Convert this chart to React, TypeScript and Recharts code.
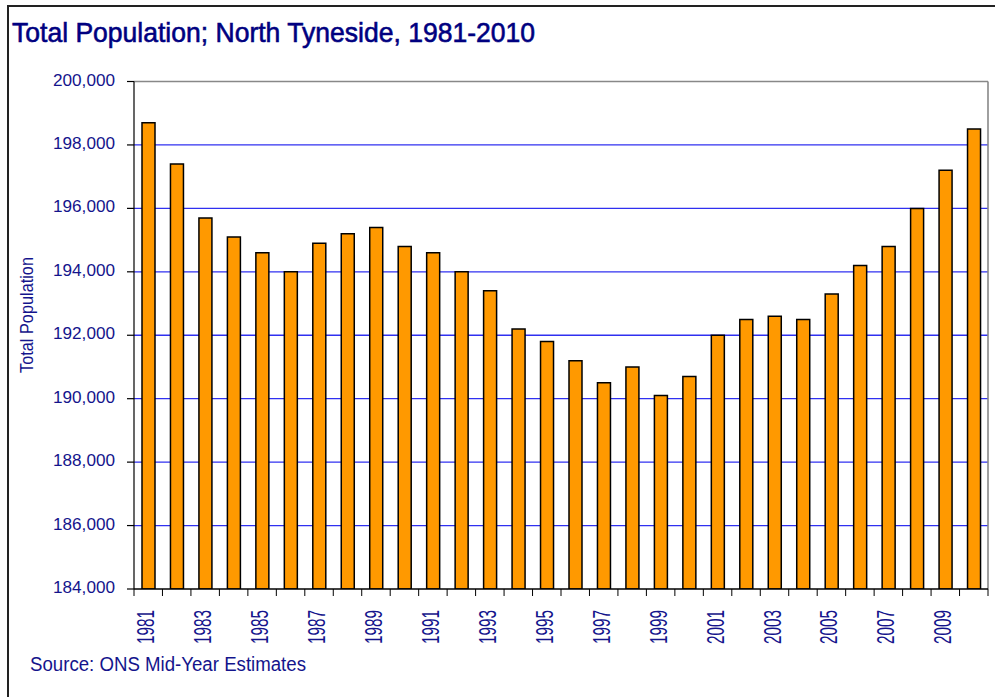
import { Bar, BarChart, CartesianGrid, XAxis, YAxis } from "recharts";

const years = [
  1981, 1982, 1983, 1984, 1985, 1986, 1987, 1988, 1989, 1990,
  1991, 1992, 1993, 1994, 1995, 1996, 1997, 1998, 1999, 2000,
  2001, 2002, 2003, 2004, 2005, 2006, 2007, 2008, 2009, 2010,
];
const population = [
  198700, 197400, 195700, 195100, 194600, 194000, 194900, 195200, 195400, 194800,
  194600, 194000, 193400, 192200, 191800, 191200, 190500, 191000, 190100, 190700,
  192000, 192500, 192600, 192500, 193300, 194200, 194800, 196000, 197200, 198500,
];
const yTicks = [184000, 186000, 188000, 190000, 192000, 194000, 196000, 198000, 200000];

const rows = years.map((y, i) => ({ year: String(y), pop: population[i] }));
// blue grid only inside the plot; top edge is the grey frame, bottom is the axis
const gridValues = yTicks.slice(1, -1);
const topValue = [yTicks[yTicks.length - 1]];

const W = 995;
const H = 697;
const LEFT = 134;
const RIGHT = 7;
const TOP = 81.5;
const BOTTOM = 108;
const BAND = (W - LEFT - RIGHT) / years.length;

const NAVY = "#14148c";
const FONT = "'Liberation Sans', Arial, sans-serif";

const fmt = (v: number) => v.toLocaleString("en-GB");

function YearTick(props: any) {
  const { x, y, index, payload } = props;
  const last = index === years.length - 1;
  return (
    <g>
      <line x1={x - BAND / 2} x2={x - BAND / 2} y1={y} y2={y + 7} stroke="#000" />
      {last && <line x1={x + BAND / 2} x2={x + BAND / 2} y1={y} y2={y + 7} stroke="#000" />}
      {index % 2 === 0 && (
        <text
          transform={`translate(${x + 6},${y + 21}) rotate(-90)`}
          textAnchor="end"
          fontSize={24}
          fontFamily={FONT}
          fill={NAVY}
          textLength={34}
          lengthAdjust="spacingAndGlyphs"
        >
          {payload.value}
        </text>
      )}
    </g>
  );
}

function PopTick(props: any) {
  const { x, y, payload } = props;
  return (
    <text
      x={x}
      y={y + 4}
      textAnchor="end"
      fontSize={17}
      fontFamily={FONT}
      fill={NAVY}
      textLength={62}
      lengthAdjust="spacingAndGlyphs"
    >
      {fmt(payload.value)}
    </text>
  );
}

export default function App() {
  return (
    <div style={{ position: "fixed", left: 0, top: 0, width: W, height: H, overflow: "hidden", background: "#fff" }}>
      <div
        style={{
          position: "absolute",
          left: 7,
          top: 5,
          width: W,
          height: H,
          borderLeft: "2px solid #222",
          borderTop: "2px solid #222",
        }}
      />
      <div style={{ position: "absolute", left: 0, top: 0 }}>
        <BarChart
          width={W}
          height={H}
          data={rows}
          margin={{ top: TOP, right: RIGHT, bottom: 0, left: 0 }}
          barSize={13}
        >
          <CartesianGrid vertical={false} stroke="#3030f0" strokeWidth={1.3} horizontalValues={gridValues} />
          {/* grey frame on top and right of the plot */}
          <CartesianGrid
            stroke="#888"
            strokeWidth={1.6}
            horizontalValues={topValue}
            verticalCoordinatesGenerator={({ offset }: any) => [offset.left + offset.width]}
          />
          <XAxis
            dataKey="year"
            interval={0}
            height={BOTTOM}
            tickLine={false}
            tickSize={0}
            tickMargin={0}
            stroke="#000"
            strokeWidth={1.5}
            tick={<YearTick />}
          />
          <YAxis
            domain={[184000, 200000]}
            ticks={yTicks}
            allowDataOverflow
            width={LEFT}
            tickSize={7}
            tickMargin={12}
            stroke="#000"
            strokeWidth={1.2}
            tick={<PopTick />}
          />
          <Bar dataKey="pop" fill="#ff9900" stroke="#000" strokeWidth={1.5} isAnimationActive={false} />
        </BarChart>
      </div>
      <svg width={W} height={H} style={{ position: "absolute", left: 0, top: 0, pointerEvents: "none" }}>
        <text
          x={12}
          y={42}
          fontSize={28}
          fontFamily={FONT}
          fill="#000080"
          stroke="#000080"
          strokeWidth={0.6}
          textLength={523}
          lengthAdjust="spacingAndGlyphs"
        >
          Total Population; North Tyneside, 1981-2010
        </text>
        <text
          transform="translate(33,315) rotate(-90)"
          textAnchor="middle"
          fontSize={18}
          fontFamily={FONT}
          fill={NAVY}
          textLength={116}
          lengthAdjust="spacingAndGlyphs"
        >
          Total Population
        </text>
        <text x={30} y={671} fontSize={20} fontFamily={FONT} fill={NAVY} textLength={276} lengthAdjust="spacingAndGlyphs">
          Source: ONS Mid-Year Estimates
        </text>
      </svg>
    </div>
  );
}
